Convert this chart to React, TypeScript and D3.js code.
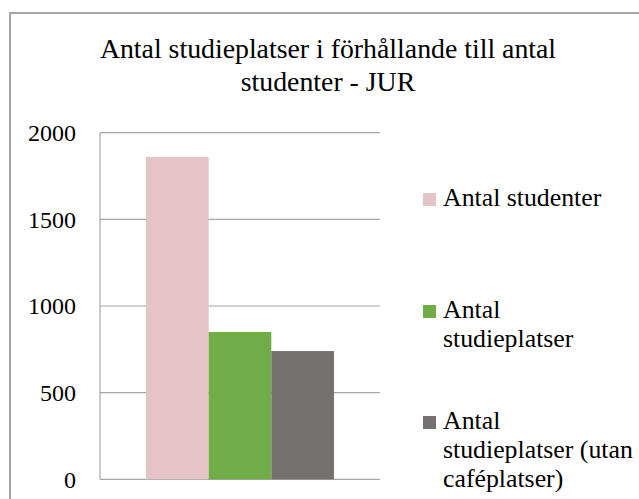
import React from "react";
import * as d3 from "d3";

const categories = ["JUR"];
const seriesNames = [
  "Antal studenter",
  "Antal studieplatser",
  "Antal studieplatser (utan caféplatser)",
];
const seriesValues = [1860, 850, 740];
const seriesColors = ["#e6c3c6", "#70ad47", "#767171"];
const yTicks = [0, 500, 1000, 1500, 2000];
const titleLines = ["Antal studieplatser i förhållande till antal", "studenter - JUR"];
const legendLines = [["Antal studenter"], ["Antal", "studieplatser"], ["Antal", "studieplatser (utan", "caféplatser)"]];

const W = 639;
const H = 499;
const FONT = "Liberation Serif";

export default function App() {
  const plotLeft = 100;
  const plotRight = 380;
  const y = d3.scaleLinear().domain([0, 2000]).range([479.3, 132.7]);
  const x0 = d3.scaleBand<string>().domain(categories).range([plotLeft, plotRight]).paddingInner(0).paddingOuter(0.245);
  const x1 = d3.scaleBand<string>().domain(seriesNames).range([0, x0.bandwidth()]).padding(0);

  const legendTop = [206, 318, 429];
  const lineH = 29;

  return (
    <svg width={W} height={H} style={{ position: "absolute", left: 0, top: 0, background: "#fff" }}>
      <rect x={0} y={0} width={W} height={H} fill="#fff" />
      <rect x={10} y={13} width={W + 100} height={H + 100} fill="#fff" stroke="#a6a6a6" strokeWidth={2} />
      {titleLines.map((t, i) => (
        <text key={i} x={328} y={58 + i * 33} textAnchor="middle" fontSize={27.8} fill="#000" style={{ fontFamily: FONT }}>
          {t}
        </text>
      ))}
      {yTicks.map((t) => (
        <g key={t}>
          <line x1={plotLeft} x2={plotRight} y1={y(t)} y2={y(t)} stroke="#a6a6a6" strokeWidth={1.2} />
          <text x={76} y={y(t)} dy="0.35em" textAnchor="end" fontSize={24} fill="#000" style={{ fontFamily: FONT }}>
            {t}
          </text>
        </g>
      ))}
      <line x1={plotLeft} x2={plotLeft} y1={y(2000)} y2={y(0)} stroke="#a6a6a6" strokeWidth={1.2} />
      {categories.map((c) => (
        <g key={c} transform={`translate(${x0(c)},0)`}>
          {seriesNames.map((s, i) => (
            <rect
              key={s}
              x={x1(s)}
              y={y(seriesValues[i])}
              width={x1.bandwidth()}
              height={y(0) - y(seriesValues[i])}
              fill={seriesColors[i]}
            />
          ))}
        </g>
      ))}
      {seriesNames.map((s, i) => (
        <g key={s}>
          <rect x={423} y={legendTop[i] - 13} width={13} height={13} fill={seriesColors[i]} />
          {legendLines[i].map((ln, j) => (
            <text key={j} x={443} y={legendTop[i] + j * lineH} fontSize={25.8} fill="#000" style={{ fontFamily: FONT }}>
              {ln}
            </text>
          ))}
        </g>
      ))}
    </svg>
  );
}
